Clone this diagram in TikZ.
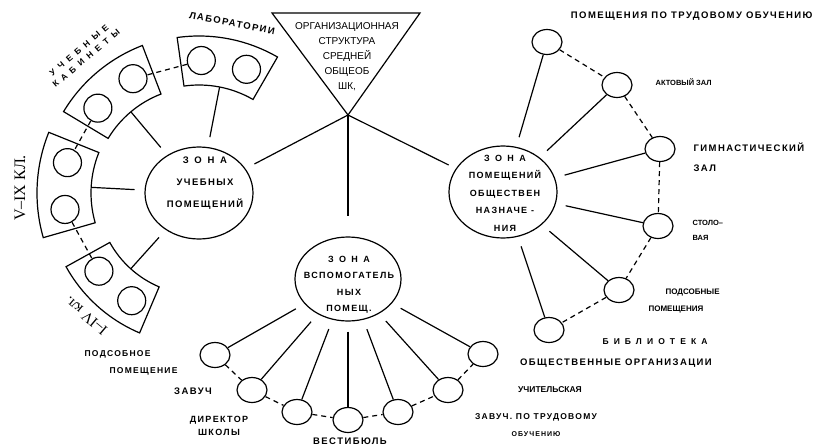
\documentclass[tikz,border=0pt]{standalone}
\usepackage{fontspec}
\setmainfont{Liberation Sans}
\newfontfamily\hand[LetterSpace=15]{Liberation Sans}
\newfontfamily\handwide[LetterSpace=60]{Liberation Sans}
\newfontfamily\klfont{Liberation Serif}
\usetikzlibrary{shapes.geometric,calc}

\tikzset{
  zone/.style={draw, ellipse, minimum width=108pt, minimum height=92pt, inner sep=0pt},
  room/.style={draw, ellipse, minimum width=30pt, minimum height=25pt, inner sep=0pt},
  cell/.style={draw, circle, minimum size=28pt, inner sep=0pt},
  lbl/.style={font=\hand\bfseries\fontsize{9.5}{11}\selectfont, inner sep=0pt},
  spoke/.style={shorten <=10pt},
  chain/.style={dash pattern=on 5pt off 4pt}
}

\begin{document}
\begin{tikzpicture}[x=1pt, y=1pt, line width=1.2pt]
  \useasboundingbox (0,0) rectangle (815,-447);

  % title triangle
  \coordinate (tl) at (272,-13);
  \coordinate (tr) at (420,-13);
  \coordinate (apex) at (348,-115);
  \draw (tl) -- (tr) -- (apex) -- cycle;
  \node[font=\fontsize{10}{15}\selectfont, align=center, inner sep=0pt] (title) at (347,-57)
    {ОРГАНИЗАЦИОННАЯ\\СТРУКТУРА\\СРЕДНЕЙ\\ОБЩЕОБ\\ШК,};

  % zones
  \node[zone] (uch) at (199,-193) {};
  \node[zone] (obsh) at (503,-192) {};
  \node[zone, minimum width=106pt, minimum height=84pt] (vsp) at (348,-279) {};

  \node[lbl, align=center, font=\hand\bfseries\fontsize{9.5}{22}\selectfont] (uchtxt) at (205,-183)
    {{\handwide ЗОНА}\\УЧЕБНЫХ\\ПОМЕЩЕНИЙ};
  \node[lbl, align=center, font=\hand\bfseries\fontsize{9}{17.5}\selectfont] (obshtxt) at (505,-193)
    {{\handwide ЗОНА}\\ПОМЕЩЕНИЙ\\ОБЩЕСТВЕН\\НАЗНАЧЕ -\\НИЯ};
  \node[lbl, align=center, font=\hand\bfseries\fontsize{9}{16.5}\selectfont] (vsptxt) at (349,-285)
    {{\handwide ЗОНА}\\ВСПОМОГАТЕЛЬ\\НЫХ\\ПОМЕЩ.};

  % links from the title
  \draw[shorten >=10pt] (apex) -- (uch);
  \draw[shorten >=8pt] (apex) -- (obsh);
  \draw[shorten >=20pt] (apex) -- (vsp);

  % teaching blocks
  \coordinate (cen) at (199,-193);
  \foreach \a/\b/\ro/\ri [evaluate=\a as \lo using \a-19, evaluate=\a as \hi using \a+19,
      evaluate=\a as \up using \a+10, evaluate=\a as \dn using \a-10,
      evaluate=\ro as \rm using (\ro+\ri)/2]
      in {79/lab/157/108, 130/kab/158/106, 177/star/162/108, 228/mlad/152/102} {
    \draw ($(cen)+(\lo:\ro pt)$) arc[start angle=\lo, end angle=\hi, radius=\ro pt]
      -- ($(cen)+(\hi:\ri pt)$) arc[start angle=\hi, end angle=\lo, radius=\ri pt] -- cycle;
    \node[cell] (\b1) at ($(cen)+(\up:\rm pt)$) {};
    \node[cell] (\b2) at ($(cen)+(\dn:\rm pt)$) {};
    \coordinate (\b) at ($(cen)+(\a:\ri pt)$);
    \draw[spoke] (uch) -- (\b);
  }
  \draw[chain] (lab1) -- (kab2);
  \draw[chain] (kab1) -- (star2);
  \draw[chain] (star1) -- (mlad2);

  \node[lbl, rotate=-11] (labtxt) at ($(cen)+(79:173pt)$) {ЛАБОРАТОРИИ};
  \node[lbl, rotate=40, align=center, font=\handwide\bfseries\fontsize{8.5}{11}\selectfont] (kabtxt)
    at ($(cen)+(130:181pt)$) {УЧЕБНЫЕ\\КАБИНЕТЫ};
  \node[font=\klfont\fontsize{16}{18}\selectfont, rotate=90, inner sep=0pt] (startxt) at (20,-188) {V–IX КЛ.};
  \node[font=\klfont\fontsize{15}{16}\selectfont, rotate=140, inner sep=0pt] (mladtxt) at (86,-316) {I–IV кл.};

  % public rooms
  \node[room] (trud) at (547,-42) {};
  \node[room] (akt) at (617,-85) {};
  \node[room] (gym) at (660,-149) {};
  \node[room] (stol) at (658,-226) {};
  \node[room] (podsob2) at (619,-290) {};
  \node[room] (bibl) at (549,-330) {};
  \foreach \r in {trud, akt, gym, stol, podsob2, bibl}
    \draw[spoke] (obsh) -- (\r);
  \draw[chain] (trud) -- (akt) -- (gym) -- (stol) -- (podsob2) -- (bibl);

  \node[lbl, anchor=east] (trudtxt) at (813,-16) {ПОМЕЩЕНИЯ ПО ТРУДОВОМУ ОБУЧЕНИЮ};
  \node[lbl, anchor=west, font=\bfseries\fontsize{7.5}{9}\selectfont] (akttxt) at (655,-82) {АКТОВЫЙ ЗАЛ};
  \node[lbl, anchor=west, align=left, font=\hand\bfseries\fontsize{9.5}{20}\selectfont] (gymtxt) at (693,-157)
    {ГИМНАСТИЧЕСКИЙ\\ЗАЛ};
  \node[lbl, anchor=west, align=left, font=\bfseries\fontsize{7.5}{15}\selectfont] (stoltxt) at (692,-230)
    {СТОЛО--\\ВАЯ};
  \node[lbl, anchor=west, align=left, font=\bfseries\fontsize{8}{17}\selectfont] (podsob2txt) at (648,-301)
    {\hspace*{17pt}ПОДСОБНЫЕ\\ПОМЕЩЕНИЯ};
  \node[lbl, font=\handwide\bfseries\fontsize{8.5}{9}\selectfont] (bibltxt) at (655,-342) {БИБЛИОТЕКА};
  \node[lbl] (orgtxt) at (616,-363) {ОБЩЕСТВЕННЫЕ ОРГАНИЗАЦИИ};

  % auxiliary rooms
  \node[room] (podsob) at (215,-355) {};
  \node[room] (zavuch) at (252,-390) {};
  \node[room] (direktor) at (297,-412) {};
  \node[room] (vestib) at (348,-420) {};
  \node[room] (zavtrud) at (398,-412) {};
  \node[room] (uchit) at (448,-390) {};
  \node[room] (obshorg) at (483,-354) {};
  \foreach \r in {podsob, zavuch, direktor, vestib, zavtrud, uchit, obshorg}
    \draw[spoke] (vsp) -- (\r);
  \draw[chain] (podsob) -- (zavuch) -- (direktor) -- (vestib) -- (zavtrud) -- (uchit) -- (obshorg);

  \node[lbl, anchor=west, align=left, font=\hand\bfseries\fontsize{8.5}{17}\selectfont] (podsobtxt) at (84,-363)
    {ПОДСОБНОЕ\\\hspace*{25pt}ПОМЕЩЕНИЕ};
  \node[lbl] (zavuchtxt) at (193,-391) {ЗАВУЧ};
  \node[lbl, align=center, font=\hand\bfseries\fontsize{9}{13}\selectfont] (direktortxt) at (219,-426)
    {ДИРЕКТОР\\ШКОЛЫ};
  \node[lbl] (vestibtxt) at (350,-441) {ВЕСТИБЮЛЬ};
  \node[lbl, font=\bfseries\fontsize{8.5}{10}\selectfont] (uchittxt) at (550,-390) {УЧИТЕЛЬСКАЯ};
  \node[lbl, align=center, font=\hand\bfseries\fontsize{8.5}{17}\selectfont] (zavtrudtxt) at (536,-425)
    {ЗАВУЧ. ПО ТРУДОВОМУ\\{\fontsize{7}{17}\selectfont ОБУЧЕНИЮ}};
\end{tikzpicture}
\end{document}
